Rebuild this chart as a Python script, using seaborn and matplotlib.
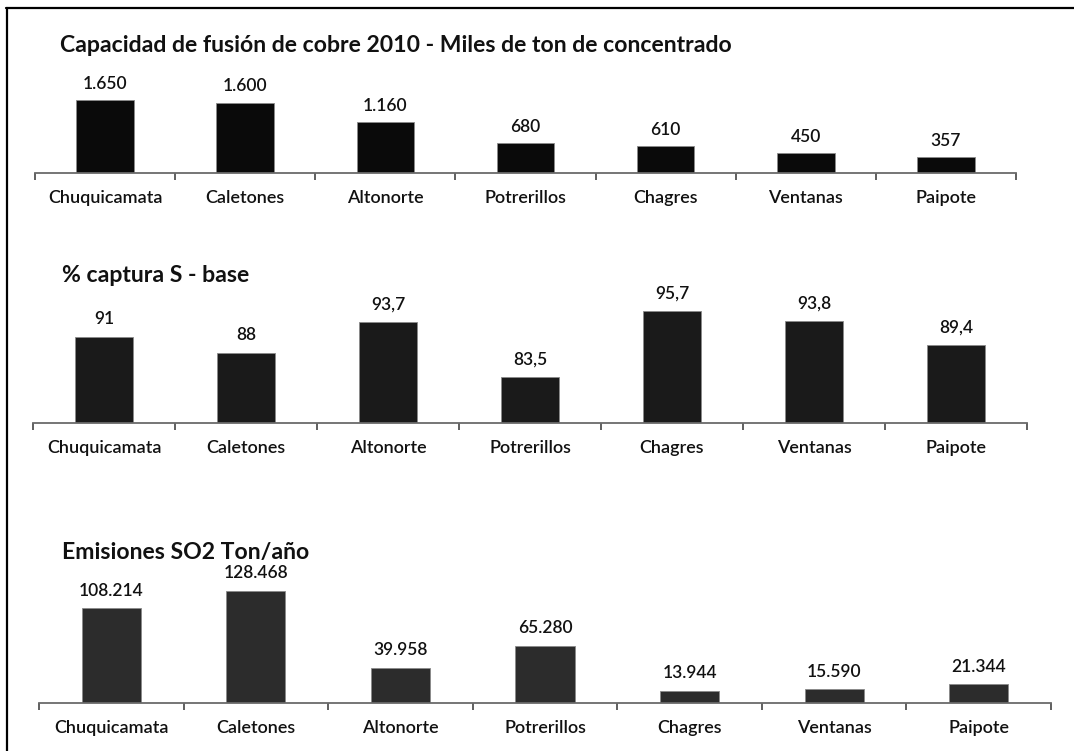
import matplotlib
matplotlib.use("Agg")
import matplotlib.pyplot as plt
import seaborn as sns
import pandas as pd
from matplotlib.lines import Line2D

# ------------ data ------------
fundiciones = ["Chuquicamata", "Caletones", "Altonorte", "Potrerillos",
               "Chagres", "Ventanas", "Paipote"]
capacidad = [1650, 1600, 1160, 680, 610, 450, 357]
captura_s = [91, 88, 93.7, 83.5, 95.7, 93.8, 89.4]
emisiones_so2 = [108214, 128468, 39958, 65280, 13944, 15590, 21344]

lbl_capacidad = ["1.650", "1.600", "1.160", "680", "610", "450", "357"]
lbl_captura = ["91", "88", "93,7", "83,5", "95,7", "93,8", "89,4"]
lbl_emisiones = ["108.214", "128.468", "39.958", "65.280", "13.944", "15.590", "21.344"]

titulos = ["Capacidad de fusión de cobre 2010 - Miles de ton de concentrado",
           "% captura S - base",
           "Emisiones SO2 Ton/año"]

# ------------ style ------------
sns.set_style("white")
plt.rcParams["font.family"] = ["Lato", "DejaVu Sans"]

W, H = 1074, 751
fig = plt.figure(figsize=(W / 100, H / 100), dpi=100)


def px_axes(x0, x1, y_top, y_base):
    # pixel box (from top-left) -> figure axes
    return fig.add_axes([x0 / W, 1 - y_base / H, (x1 - x0) / W, (y_base - y_top) / H])


paneles = [
    # values, labels, title, color, box, ylim, title pos, label offset
    (capacidad, lbl_capacidad, titulos[0], "#0a0a0a", (35, 1016, 75, 173), (0, 2230), (60, 45), 6),
    (captura_s, lbl_captura, titulos[1], "#1a1a1a", (33, 1027, 288, 423), (75, 100), (62, 276), 7),
    (emisiones_so2, lbl_emisiones, titulos[2], "#2c2c2c", (39, 1051, 570, 703), (0, 152000), (62, 553), 7),
]

for vals, labels, titulo, color, box, ylim, tpos, off in paneles:
    ax = px_axes(*box)
    df = pd.DataFrame({"fundicion": fundiciones, "valor": vals})
    sns.barplot(data=df, x="fundicion", y="valor", color=color, width=0.41,
                saturation=1, ax=ax, edgecolor="#8a8a8a", linewidth=0.6)
    ax.set_ylim(*ylim)
    ax.set_xlim(-0.5, len(fundiciones) - 0.5)
    for sp in ["top", "left", "right"]:
        ax.spines[sp].set_visible(False)
    ax.spines["bottom"].set_color("#6a6a6a")
    ax.spines["bottom"].set_linewidth(1.3)
    ax.set_yticks([])
    ax.set_xlabel("")
    ax.set_ylabel("")
    ax.set_xticks(range(len(fundiciones)))
    ax.set_xticklabels(fundiciones, fontsize=13, fontweight="semibold", color="#111111")
    ax.tick_params(axis="x", which="major", length=0, pad=12)
    ax.set_xticks([i - 0.5 for i in range(len(fundiciones) + 1)], minor=True)
    ax.tick_params(axis="x", which="minor", bottom=True, length=5, width=1.2,
                   color="#444444", direction="out")
    ax.patch.set_alpha(0)
    for bar, txt in zip(ax.patches, labels):
        ax.annotate(txt, (bar.get_x() + bar.get_width() / 2, bar.get_height()),
                    xytext=(0, off), textcoords="offset points",
                    ha="center", va="bottom", fontsize=12.5, fontweight="semibold",
                    color="#111111")
    fig.text(tpos[0] / W, 1 - tpos[1] / H, titulo, fontsize=16.6, fontweight="bold",
             ha="left", va="center", color="#111111")

# frame of the scanned page
fig.add_artist(Line2D([6 / W, 1], [1 - 8 / H, 1 - 8 / H], color="black", lw=1.6,
                      transform=fig.transFigure))
fig.add_artist(Line2D([7 / W, 7 / W], [0, 1 - 8 / H], color="black", lw=1.6,
                      transform=fig.transFigure))

fig.savefig("out.png", dpi=100, facecolor="white")
